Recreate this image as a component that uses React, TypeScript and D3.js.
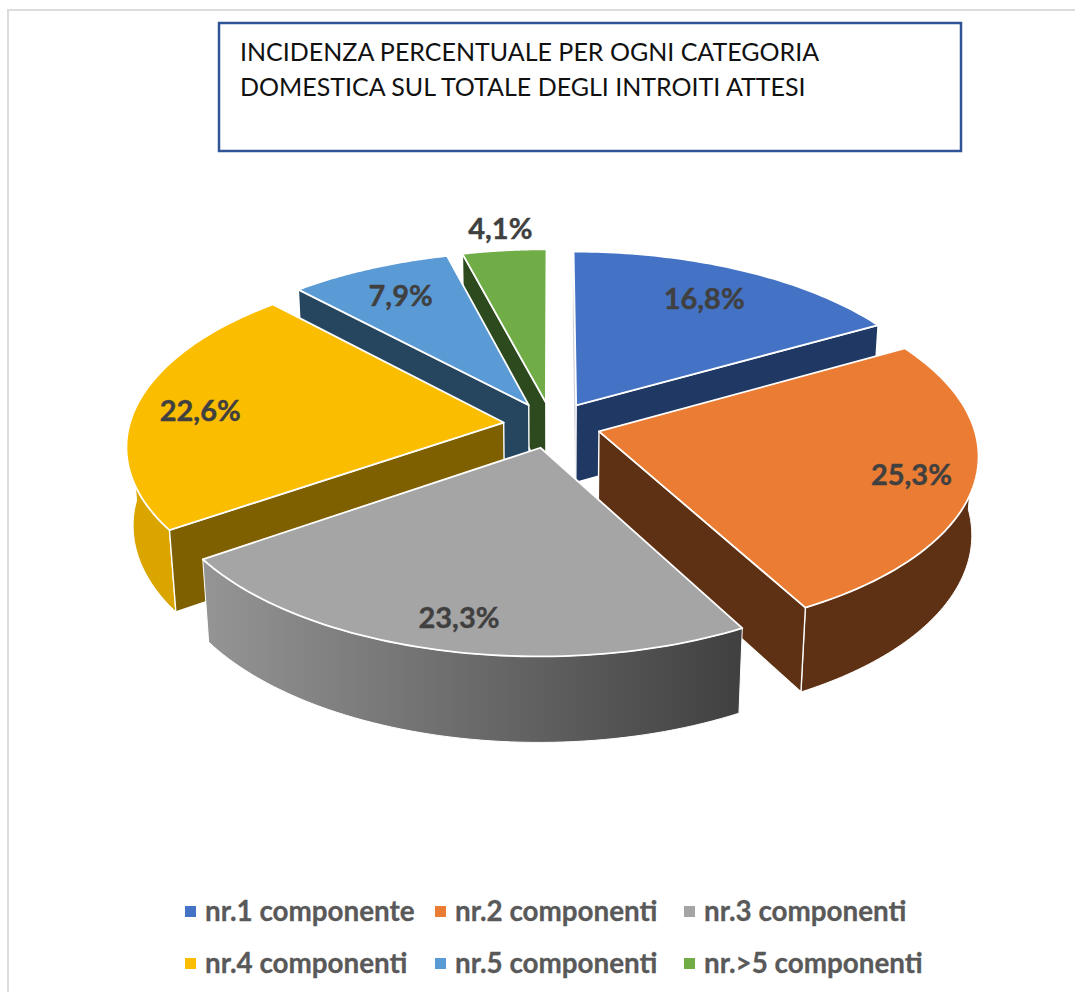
import React from 'react';
import * as d3 from 'd3';

// values
const categories = ['nr.1 componente', 'nr.2 componenti', 'nr.3 componenti', 'nr.4 componenti', 'nr.5 componenti', 'nr.>5 componenti'];
const shares = [16.8, 25.3, 23.3, 22.6, 7.9, 4.1];
const topColors = ['#4472c4', '#ea7c33', '#a5a5a5', '#fbbd00', '#5b9bd5', '#70ad47'];
const cutColors = ['#203864', '#5f3114', '#404040', '#7f6000', '#264660', '#2c4a1e'];
const wallColors = ['#203864', '#5f3114', 'url(#wallGray)', '#dba500', '#264660', '#2c4a1e'];
const titleLines = ['INCIDENZA PERCENTUALE PER OGNI CATEGORIA', 'DOMESTICA SUL TOTALE DEGLI INTROITI ATTESI'];
const legendXs = [185, 435, 684];
const legendRows = [912, 964];
const labelRadius = [0.75, 0.84, 0.865, 0.82, 0.77, 1.14];
const labelShift = [0.1, 1.4, -0.9, -2.4, -0.6, 0.2];

const WIDTH = 1075;
const HEIGHT = 992;
const TAU = Math.PI * 2;

// camera for the tilted pie
const cx = 552;
const cy = 425;
const tilt = 0.493;
const dist = 7.2;
const focal = 2695;
const thick = 0.24;
const explode = 0.13;

function project(x: number, y: number, z: number): [number, number] {
  const s = Math.sin(tilt);
  const c = Math.cos(tilt);
  const yv = y * s + z * c;
  const yc = y * c - z * s;
  const k = focal / (dist + yc);
  return [cx + x * k, cy - yv * k];
}

type Slice = d3.PieArcDatum<number>;

const pie = d3.pie<number>().sort(null).startAngle(0).endAngle(TAU);
const slices: Slice[] = pie(shares);
const line = d3.line();

// plane point of a slice: angle is clockwise from the back of the pie
function rim(d: Slice, a: number, r: number, z: number) {
  const mid = (d.startAngle + d.endAngle) / 2;
  const ox = Math.sin(mid) * explode;
  const oy = Math.cos(mid) * explode;
  return project(ox + Math.sin(a) * r, oy + Math.cos(a) * r, z);
}

function arcAngles(a0: number, a1: number) {
  return d3.range(0, 61).map((i) => a0 + ((a1 - a0) * i) / 60);
}

function topPath(d: Slice) {
  const pts = arcAngles(d.startAngle, d.endAngle).map((a) => rim(d, a, 1, 0));
  return line([rim(d, 0, 0, 0), ...pts]) + 'Z';
}

function wallPath(d: Slice, a0: number, a1: number) {
  const up = arcAngles(a0, a1).map((a) => rim(d, a, 1, 0));
  const down = arcAngles(a1, a0).map((a) => rim(d, a, 1, -thick));
  return line([...up, ...down]) + 'Z';
}

function cutPath(d: Slice, a: number) {
  return line([rim(d, 0, 0, 0), rim(d, a, 1, 0), rim(d, a, 1, -thick), rim(d, 0, 0, -thick)]) + 'Z';
}

// back to front, as on the sheet: far slices first
const drawOrder = [5, 0, 4, 3, 1, 2];

function labelPoint(i: number) {
  const d = slices[i];
  const mid = (d.startAngle + d.endAngle) / 2 + (labelShift[i] * Math.PI) / 180;
  return rim(d, mid, labelRadius[i], 0);
}

function fmt(v: number) {
  return v.toFixed(1).replace('.', ',') + '%';
}

function Slice3D({ i }: { i: number }) {
  const d = slices[i];
  const stroke = { stroke: '#fff', strokeWidth: 1.8, strokeLinejoin: 'round' as const };
  const a0 = Math.max(d.startAngle, Math.PI / 2);
  const a1 = Math.min(d.endAngle, Math.PI * 1.5);
  const cuts: number[] = [];
  // a cut face shows only when it turns towards the viewer
  if (d.startAngle > Math.PI) cuts.push(d.startAngle);
  if (d.endAngle < Math.PI) cuts.push(d.endAngle);
  return (
    <g>
      {i === 0 && <path d={cutPath(d, 0)} fill="#c9ced8" stroke="#c9ced8" strokeWidth={0.8} />}
      {a1 > a0 && <path d={wallPath(d, a0, a1)} fill={wallColors[i]} stroke="#fff" strokeWidth={1} />}
      {cuts.map((a) => (
        <path key={a} d={cutPath(d, a)} fill={cutColors[i]} {...stroke} strokeWidth={1.4} />
      ))}
      <path d={topPath(d)} fill={topColors[i]} {...stroke} />
    </g>
  );
}

export default function App() {
  return (
    <svg
      width={WIDTH}
      height={HEIGHT}
      style={{ position: 'absolute', left: 0, top: 0, background: '#fff', fontFamily: 'Lato, "Open Sans", sans-serif' }}
    >
      <defs>
        <linearGradient id="wallGray" gradientUnits="userSpaceOnUse" x1={203} x2={741} y1={0} y2={0}>
          <stop offset="0" stopColor="#959595" />
          <stop offset="1" stopColor="#404040" />
        </linearGradient>
      </defs>

      <path d={`M8,${HEIGHT}V10H${WIDTH}`} fill="none" stroke="#dcdcdc" strokeWidth={2} />

      <rect x={219} y={23} width={742} height={128} fill="#fff" stroke="#2f5597" strokeWidth={2.5} />
      {titleLines.map((t, i) => (
        <text key={t} x={240} y={61 + i * 35} fontSize={25} fill="#111">
          {t}
        </text>
      ))}

      {drawOrder.map((i) => (
        <Slice3D key={i} i={i} />
      ))}

      {slices.map((d, i) => {
        const [x, y] = labelPoint(i);
        return (
          <text
            key={i}
            x={x}
            y={y}
            textAnchor="middle"
            dominantBaseline="middle"
            fontSize={29}
            fontWeight={700}
            fill="#404040"
            stroke="#404040"
            strokeWidth={0.4}
          >
            {fmt(d.value)}
          </text>
        );
      })}

      {categories.map((c, i) => {
        const row = Math.floor(i / 3);
        const col = i % 3;
        return (
          <g key={c} transform={`translate(${legendXs[col]},${legendRows[row]})`}>
            <rect x={0} y={-6} width={11} height={11} fill={topColors[i]} />
            <text x={20} y={9} fontSize={27.8} fontWeight={700} fill="#595959" stroke="#595959" strokeWidth={0.3}>
              {c}
            </text>
          </g>
        );
      })}
    </svg>
  );
}
